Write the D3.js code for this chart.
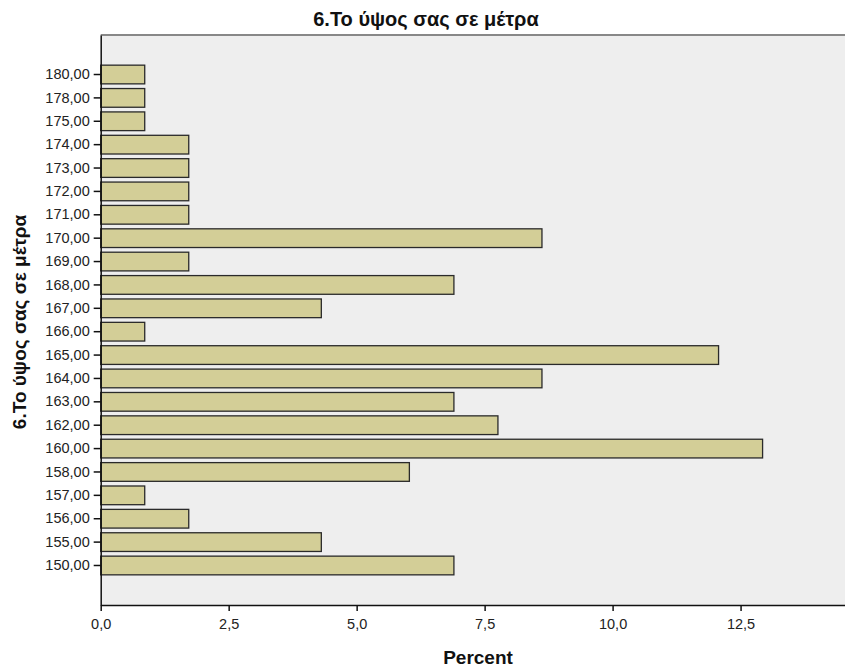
<!DOCTYPE html>
<html><head><meta charset="utf-8">
<script src="https://cdn.jsdelivr.net/npm/d3@7"></script>
<style>body{margin:0;background:#fff}svg{display:block;font-family:"Liberation Sans",Arial,sans-serif}</style>
</head><body><svg id="c" width="845" height="672"></svg>
<script>
const categories = ["180,00","178,00","175,00","174,00","173,00","172,00","171,00","170,00","169,00","168,00","167,00","166,00","165,00","164,00","163,00","162,00","160,00","158,00","157,00","156,00","155,00","150,00"];
const percents = [0.86,0.86,0.86,1.72,1.72,1.72,1.72,8.62,1.72,6.90,4.31,0.86,12.07,8.62,6.90,7.76,12.93,6.03,0.86,1.72,4.31,6.90];
const xTicks = [0,2.5,5,7.5,10,12.5];
const title = "6.Το ύψος σας σε μέτρα";
const xLabel = "Percent";
const yLabel = "6.Το ύψος σας σε μέτρα";

const svg = d3.select("#c");
const L = 100.7, R = 845, T = 35, B = 605;
const x = d3.scaleLinear().domain([0, 14.54]).range([L, R]);
const y = d3.scaleBand().domain(categories).range([T, B]).paddingInner(0.2).paddingOuter(1.29);

svg.append("rect").attr("x", L).attr("y", T).attr("width", R - L + 5).attr("height", B - T)
  .attr("fill", "#eeeeee");
svg.append("line").attr("x1", L).attr("x2", R).attr("y1", T).attr("y2", T)
  .attr("stroke", "#888").attr("stroke-width", 2);

const data = categories.map((c, i) => ({c, v: percents[i]}));
svg.append("g").selectAll("rect").data(data).join("rect")
  .attr("x", x(0)).attr("y", d => y(d.c))
  .attr("width", d => x(d.v) - x(0)).attr("height", y.bandwidth())
  .attr("fill", "#d3ce97").attr("stroke", "#2a2a2a").attr("stroke-width", 1.3);

const fmt = d => d3.format(".1f")(d).replace(".", ",");
const gx = svg.append("g").attr("transform", `translate(0,${B})`)
  .call(d3.axisBottom(x).tickValues(xTicks).tickFormat(fmt).tickSize(6).tickSizeOuter(0));
gx.select(".domain").attr("stroke", "#111").attr("stroke-width", 1.5);
gx.selectAll(".tick line").attr("stroke", "#111").attr("stroke-width", 1.5);
gx.selectAll("text").attr("font-size", 14.5).attr("fill", "#222").attr("y", 14).attr("dy", "0.71em");

const gy = svg.append("g").attr("transform", `translate(${L},0)`)
  .call(d3.axisLeft(y).tickSize(7).tickSizeOuter(0));
gy.select(".domain").attr("stroke", "#111").attr("stroke-width", 1.5);
gy.selectAll(".tick line").attr("stroke", "#111").attr("stroke-width", 1.5);
gy.selectAll("text").attr("font-size", 14.5).attr("fill", "#222").attr("x", -11);

svg.append("text").attr("x", 426).attr("y", 26).attr("text-anchor", "middle")
  .attr("font-size", 20).attr("font-weight", "bold").attr("fill", "#111").text(title);
svg.append("text").attr("x", 478).attr("y", 664).attr("text-anchor", "middle")
  .attr("font-size", 19).attr("font-weight", "bold").attr("fill", "#111").text(xLabel);
svg.append("text").attr("transform", "translate(26,322) rotate(-90)").attr("text-anchor", "middle")
  .attr("font-size", 19).attr("font-weight", "bold").attr("fill", "#111").text(yLabel);
</script></body></html>
